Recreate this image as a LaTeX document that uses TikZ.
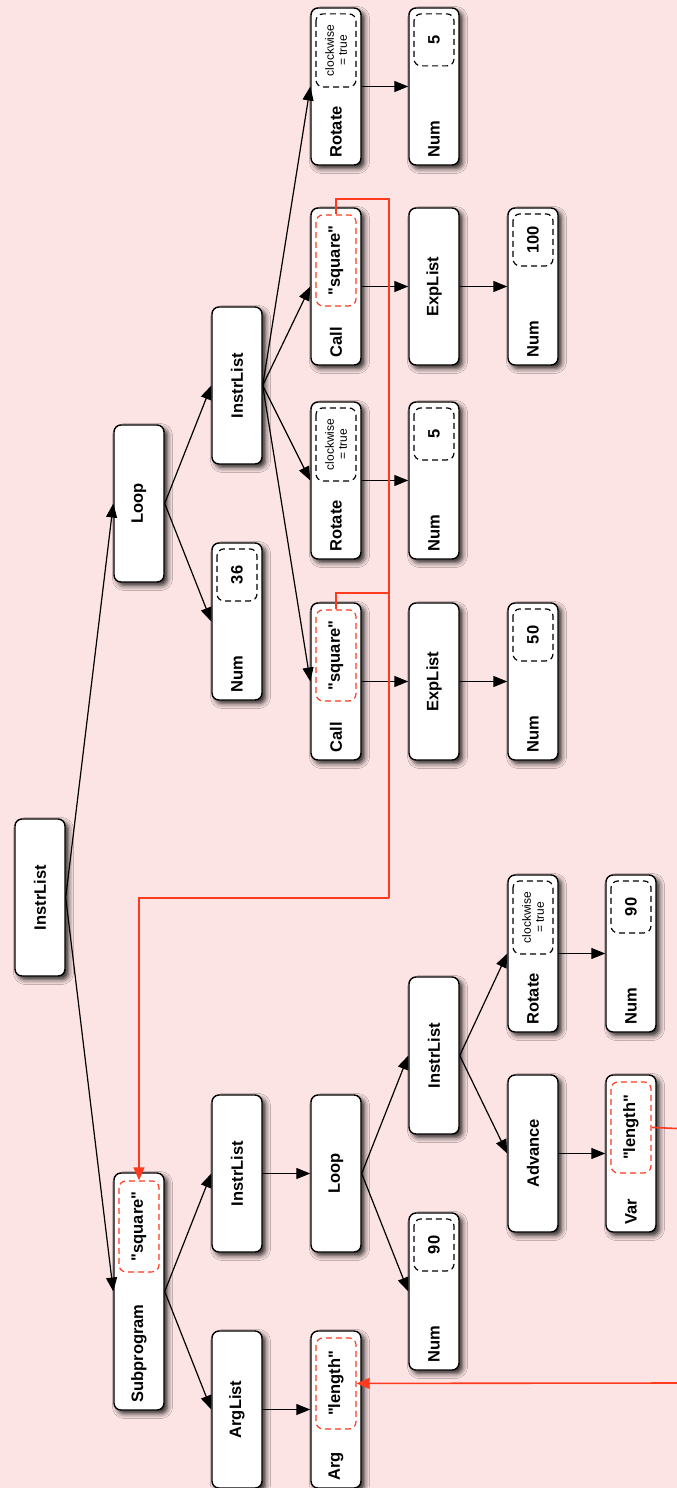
\documentclass[tikz,border=0pt]{standalone}
\usepackage{fontspec}
\setmainfont{Liberation Sans}
\usepackage{graphicx}
\usetikzlibrary{arrows.meta, positioning, shadows.blur, calc}
\definecolor{astpink}{HTML}{FDE4E4}
\definecolor{refred}{HTML}{FF3B1F}

\begin{document}
\begin{tikzpicture}[
    x=1pt, y=-1pt,
    astnode/.style={draw=black, line width=1.4pt, rounded corners=7pt, fill=white, minimum width=50pt, minimum height=157pt, inner sep=0pt,
        blur shadow={shadow xshift=3.5pt, shadow yshift=-3.5pt, shadow blur radius=5pt, shadow opacity=85}, font=\fontsize{16.5}{19}\selectfont\bfseries},
    tallnode/.style={astnode, minimum height=237pt},
    attr/.style={draw=black, dash pattern=on 6pt off 4pt, line width=1.2pt, rounded corners=7pt, rotate=90, anchor=east, minimum height=40pt, inner sep=1pt, align=center, font=\fontsize{16.5}{19}\selectfont\bfseries},
    strattr/.style={attr, draw=refred, minimum width=91pt},
    numattr/.style={attr, minimum width=52pt},
    flagattr/.style={attr, minimum width=73pt, font=\fontsize{12}{13}\selectfont},
    tag/.style={rotate=90, anchor=west, inner sep=0pt, font=\fontsize{16.5}{19}\selectfont\bfseries},
    arrow/.style={-{Triangle[length=14pt, width=11pt]}, line width=1.2pt},
    refline/.style={draw=refred, line width=1.6pt},
    refarrow/.style={refline, -{Triangle[length=13pt, width=11pt]}},
]
    \fill[astpink] (0,0) rectangle (677,1488);
    \useasboundingbox (0,0) rectangle (677,1488);

    % Root
    \node[astnode] (root) at (40, 897.5) {\rotatebox{90}{InstrList}};

    % Main program: loop
    \node[astnode] (loop1) at (139, 503.5) {\rotatebox{90}{Loop}};
    \node[astnode] (num36) at (237, 621.5) {};
    \node[numattr] (num36-v) at ([yshift=-6pt]num36.north) {36};
    \node[tag] (num36-t) at ([yshift=8pt]num36.south) {Num};
    \node[astnode] (body1) at (237, 385.5) {\rotatebox{90}{InstrList}};

    \node[astnode] (rot1) at (336, 86.5) {};
    \node[flagattr] (rot1-v) at ([yshift=-6pt]rot1.north) {clockwise\\= true};
    \node[tag] (rot1-t) at ([yshift=8pt]rot1.south) {Rotate};
    \node[astnode] (call1) at (336, 286.5) {};
    \node[strattr] (call1-v) at ([yshift=-7pt]call1.north) {\textquotedbl square\textquotedbl};
    \node[tag] (call1-t) at ([yshift=8pt]call1.south) {Call};
    \node[astnode] (rot2) at (336, 480.5) {};
    \node[flagattr] (rot2-v) at ([yshift=-6pt]rot2.north) {clockwise\\= true};
    \node[tag] (rot2-t) at ([yshift=8pt]rot2.south) {Rotate};
    \node[astnode] (call2) at (336, 681.5) {};
    \node[strattr] (call2-v) at ([yshift=-7pt]call2.north) {\textquotedbl square\textquotedbl};
    \node[tag] (call2-t) at ([yshift=8pt]call2.south) {Call};

    \node[astnode] (num5a) at (434, 86.5) {};
    \node[numattr] (num5a-v) at ([yshift=-6pt]num5a.north) {5};
    \node[tag] (num5a-t) at ([yshift=8pt]num5a.south) {Num};
    \node[astnode] (exps1) at (434, 286.5) {\rotatebox{90}{ExpList}};
    \node[astnode] (num5b) at (434, 480.5) {};
    \node[numattr] (num5b-v) at ([yshift=-6pt]num5b.north) {5};
    \node[tag] (num5b-t) at ([yshift=8pt]num5b.south) {Num};
    \node[astnode] (exps2) at (434, 681.5) {\rotatebox{90}{ExpList}};

    \node[astnode] (num100) at (533, 286.5) {};
    \node[numattr] (num100-v) at ([yshift=-6pt]num100.north) {100};
    \node[tag] (num100-t) at ([yshift=8pt]num100.south) {Num};
    \node[astnode] (num50) at (533, 681.5) {};
    \node[numattr] (num50-v) at ([yshift=-6pt]num50.north) {50};
    \node[tag] (num50-t) at ([yshift=8pt]num50.south) {Num};

    % Subprogram definition
    \node[tallnode] (sub) at (139, 1291.5) {};
    \node[strattr] (sub-v) at ([yshift=-8pt]sub.north) {\textquotedbl square\textquotedbl};
    \node[tag] (sub-t) at ([yshift=8pt]sub.south) {Subprogram};
    \node[astnode] (args) at (237, 1409.5) {\rotatebox{90}{ArgList}};
    \node[astnode] (body2) at (237, 1173.5) {\rotatebox{90}{InstrList}};
    \node[astnode] (arg) at (336, 1409.5) {};
    \node[strattr] (arg-v) at ([yshift=-7pt]arg.north) {\textquotedbl length\textquotedbl};
    \node[tag] (arg-t) at ([yshift=8pt]arg.south) {Arg};
    \node[astnode] (loop2) at (336, 1173.5) {\rotatebox{90}{Loop}};
    \node[astnode] (num90a) at (434, 1291.5) {};
    \node[numattr] (num90a-v) at ([yshift=-6pt]num90a.north) {90};
    \node[tag] (num90a-t) at ([yshift=8pt]num90a.south) {Num};
    \node[astnode] (body3) at (434, 1055.5) {\rotatebox{90}{InstrList}};
    \node[astnode] (rot3) at (533, 953.5) {};
    \node[flagattr] (rot3-v) at ([yshift=-6pt]rot3.north) {clockwise\\= true};
    \node[tag] (rot3-t) at ([yshift=8pt]rot3.south) {Rotate};
    \node[astnode] (adv) at (533, 1153.5) {\rotatebox{90}{Advance}};
    \node[astnode] (num90b) at (631, 953.5) {};
    \node[numattr] (num90b-v) at ([yshift=-6pt]num90b.north) {90};
    \node[tag] (num90b-t) at ([yshift=8pt]num90b.south) {Num};
    \node[astnode] (var) at (631, 1153.5) {};
    \node[strattr] (var-v) at ([yshift=-7pt]var.north) {\textquotedbl length\textquotedbl};
    \node[tag] (var-t) at ([yshift=8pt]var.south) {Var};

    % Tree edges
    \draw[arrow] (root.east) -- (loop1.west);
    \draw[arrow] (root.east) -- (sub.west);
    \draw[arrow] (loop1.east) -- (num36.west);
    \draw[arrow] (loop1.east) -- (body1.west);
    \draw[arrow] (body1.east) -- (rot1.west);
    \draw[arrow] (body1.east) -- (call1.west);
    \draw[arrow] (body1.east) -- (rot2.west);
    \draw[arrow] (body1.east) -- (call2.west);
    \draw[arrow] (rot1.east) -- (num5a.west);
    \draw[arrow] (call1.east) -- (exps1.west);
    \draw[arrow] (exps1.east) -- (num100.west);
    \draw[arrow] (rot2.east) -- (num5b.west);
    \draw[arrow] (call2.east) -- (exps2.west);
    \draw[arrow] (exps2.east) -- (num50.west);
    \draw[arrow] (sub.east) -- (args.west);
    \draw[arrow] (sub.east) -- (body2.west);
    \draw[arrow] (args.east) -- (arg.west);
    \draw[arrow] (body2.east) -- (loop2.west);
    \draw[arrow] (loop2.east) -- (num90a.west);
    \draw[arrow] (loop2.east) -- (body3.west);
    \draw[arrow] (body3.east) -- (rot3.west);
    \draw[arrow] (body3.east) -- (adv.west);
    \draw[arrow] (rot3.east) -- (num90b.west);
    \draw[arrow] (adv.east) -- (var.west);

    % References to definitions
    \coordinate (jog1) at (389, 199);
    \coordinate (jog2) at (389, 593);
    \coordinate (bus) at (389, 898);
    \coordinate (exitR) at (677, 1128.5);
    \coordinate (entryR) at (677, 1383);
    \draw[refline] (call1-v.east) |- (jog1) -- (bus);
    \draw[refline] (call2-v.east) |- (jog2) -- (bus);
    \draw[refarrow] (bus) -| (sub-v.east);
    \draw[refline] (var-v.south) -- (exitR);
    \draw[refarrow] (entryR) -- (arg-v.south);
\end{tikzpicture}
\end{document}
